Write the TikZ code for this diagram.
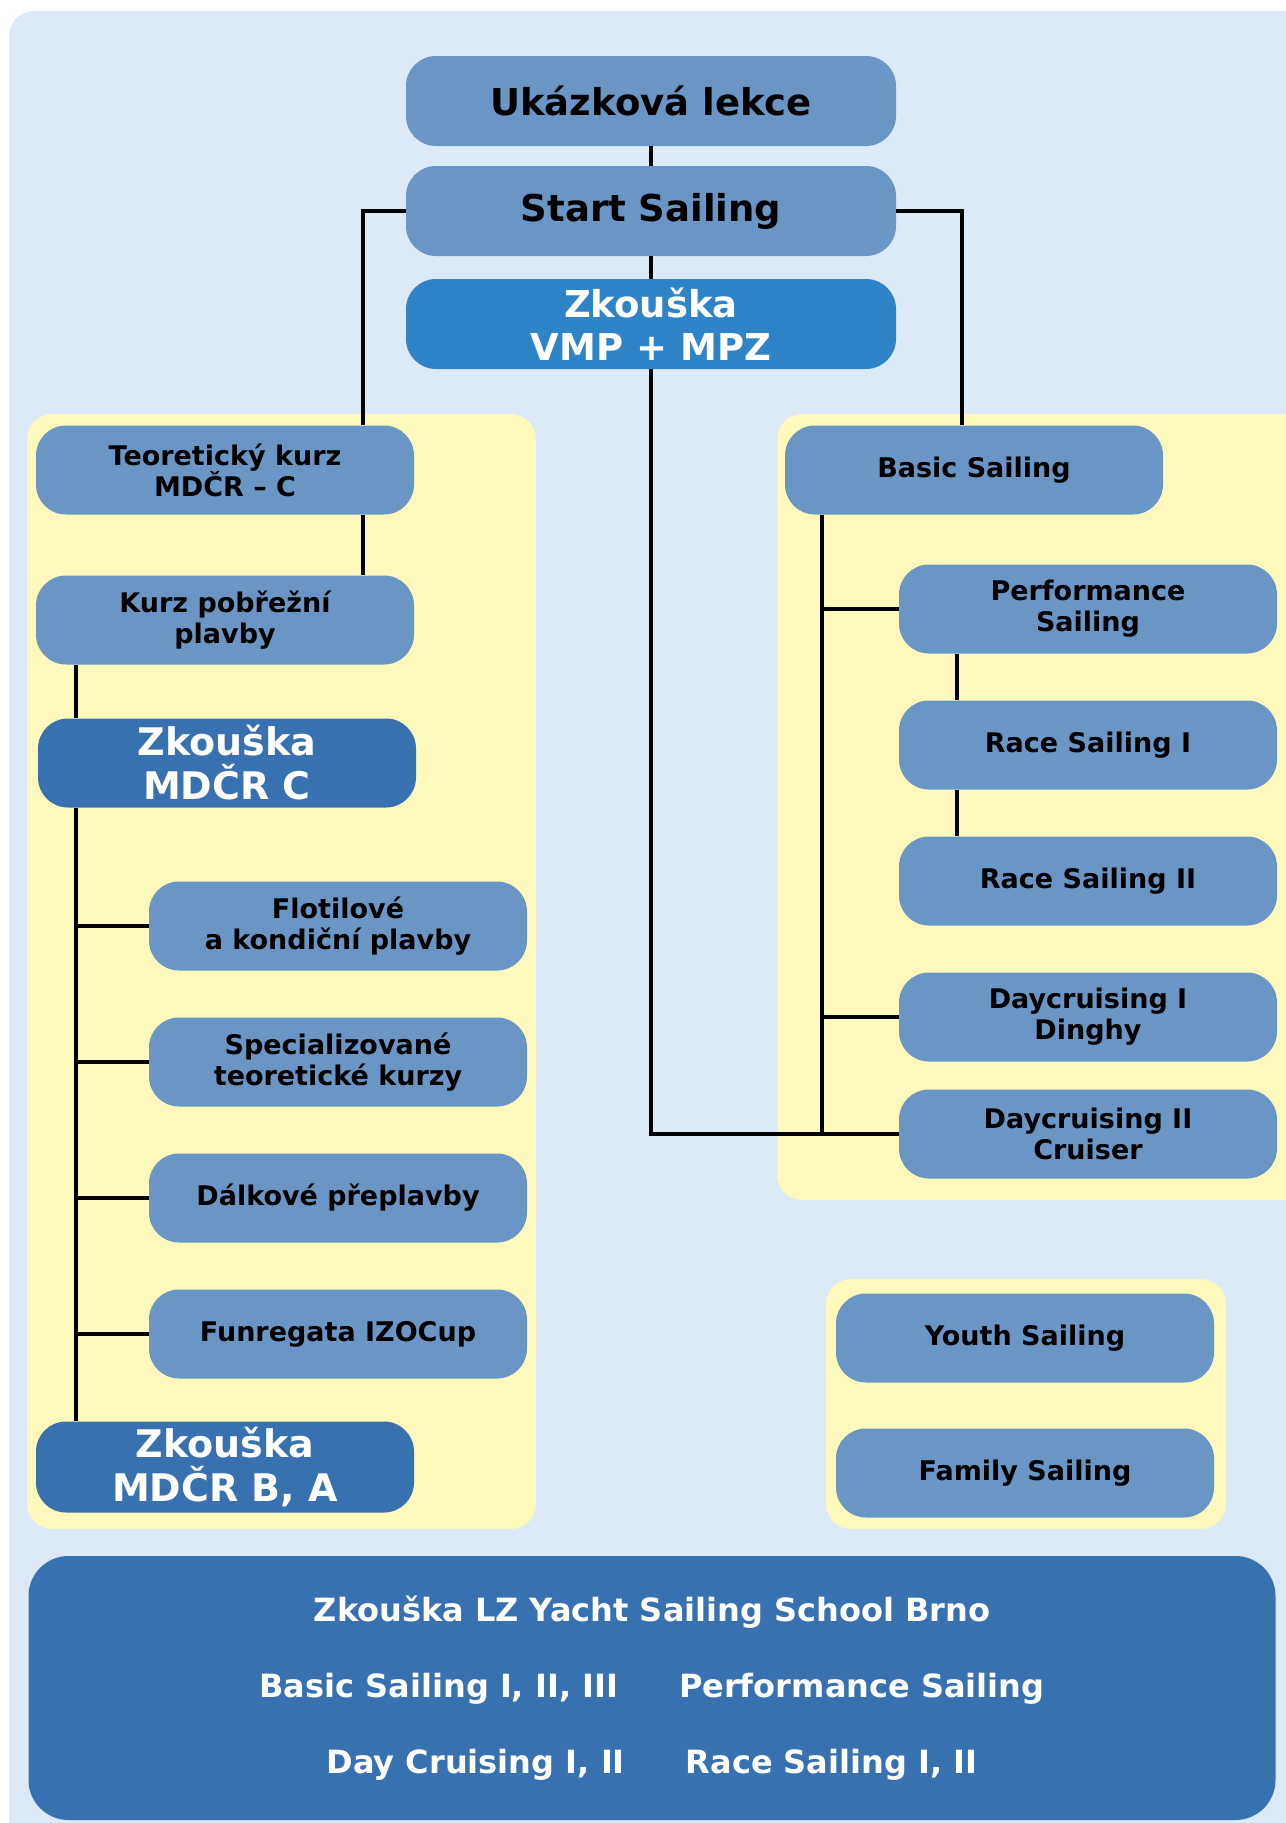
\documentclass[tikz,border=0pt]{standalone}
\usepackage{fontspec}
\setmainfont{DejaVu Sans}
\usepackage{tikz}

\definecolor{pagebg}{HTML}{DCE9F6}
\definecolor{panelyellow}{HTML}{FDF8BC}
\definecolor{courseblue}{HTML}{6A96C6}
\definecolor{examblue}{HTML}{3871B0}
\definecolor{vmpblue}{HTML}{2E84C6}

\begin{document}
\begin{tikzpicture}[x=1pt, y=-1pt,
                box/.style={rounded corners=30pt, fill=courseblue, minimum height=89pt,
                        inner sep=0pt, align=center, font=\bfseries\fontsize{27}{31}\selectfont},
                topbox/.style={box, minimum width=490pt, minimum height=90pt, font=\bfseries\fontsize{37}{40}\selectfont},
                sidebox/.style={box, minimum width=378pt},
                exambox/.style={box, fill=examblue, text=white, font=\bfseries\fontsize{38}{44}\selectfont},
                link/.style={line width=4.5pt}]
                \useasboundingbox (0, 0) rectangle (1285, 1823);
                \fill[pagebg, rounded corners=25pt] (9, 11) rectangle (1320, 1850);
                \fill[panelyellow, rounded corners=25pt] (27, 414) rectangle (536, 1529);
                \fill[panelyellow, rounded corners=25pt] (777, 414) rectangle (1320, 1200);
                \fill[panelyellow, rounded corners=25pt] (826, 1279) rectangle (1226, 1529);

                \node (ukazka) at (651, 101) [topbox] {Ukázková lekce};
                \node (start) at (651, 211) [topbox] {Start Sailing};
                \node (vmp) at (651, 324) [topbox, fill=vmpblue, text=white, font=\bfseries\fontsize{37}{43}\selectfont] {Zkouška\\VMP + MPZ};

                \node (teor) at (225, 470) [sidebox] {Teoretický kurz\\MDČR – C};
                \node (kurz) at (225, 620) [sidebox] {Kurz pobřežní\\plavby};
                \node (mdcrc) at (227, 763) [sidebox, exambox] {Zkouška\\MDČR C};
                \node (flot) at (338, 926) [sidebox] {Flotilové\\a kondiční plavby};
                \node (spec) at (338, 1062) [sidebox] {Specializované\\teoretické kurzy};
                \node (dalk) at (338, 1198) [sidebox] {Dálkové přeplavby};
                \node (funr) at (338, 1334) [sidebox] {Funregata IZOCup};
                \node (mdcrba) at (225, 1467) [sidebox, exambox, minimum height=91pt] {Zkouška\\MDČR B, A};

                \node (basic) at (974, 470) [sidebox] {Basic Sailing};
                \node (perf) at (1088, 609) [sidebox] {Performance\\Sailing};
                \node (race1) at (1088, 745) [sidebox] {Race Sailing I};
                \node (race2) at (1088, 881) [sidebox] {Race Sailing II};
                \node (dc1) at (1088, 1017) [sidebox] {Daycruising I\\Dinghy};
                \node (dc2) at (1088, 1134) [sidebox] {Daycruising II\\Cruiser};

                \node (youth) at (1025, 1338) [sidebox] {Youth Sailing};
                \node (family) at (1025, 1473) [sidebox] {Family Sailing};

                \node (lzbox) at (652, 1688) [box, fill=examblue, text=white, rounded corners=40pt,
                        minimum width=1247pt, minimum height=264pt, font=\bfseries\fontsize{32}{76}\selectfont]
                        {Zkouška LZ Yacht Sailing School Brno\\
                        Basic Sailing I, II, III\hspace{61pt}Performance Sailing\\
                        Day Cruising I, II\hspace{61pt}Race Sailing I, II};

                \coordinate (ltrunk) at ([xshift=40pt]kurz.south west);
                \coordinate (rtrunk) at ([xshift=37pt]basic.south west);

                \draw[link] (ukazka) -- (start);
                \draw[link] (start) -- (vmp);
                \draw[link] (start.west) -| ([xshift=-51pt]teor.north east);
                \draw[link] ([xshift=-51pt]teor.south east) -- ([xshift=-51pt]kurz.north east);
                \draw[link] (start.east) -| ([xshift=-12pt]basic.north);
                \draw[link] (vmp.south) |- (dc2.west);

                \draw[link] (ltrunk) -- (ltrunk |- mdcrc.north);
                \draw[link] (ltrunk |- mdcrc.south) -- (ltrunk |- mdcrba.north);
                \draw[link] (flot.west) -- (flot.west -| ltrunk);
                \draw[link] (spec.west) -- (spec.west -| ltrunk);
                \draw[link] (dalk.west) -- (dalk.west -| ltrunk);
                \draw[link] (funr.west) -- (funr.west -| ltrunk);

                \draw[link] (rtrunk) |- (dc2.west);
                \draw[link] (perf.west) -- (perf.west -| rtrunk);
                \draw[link] (dc1.west) -- (dc1.west -| rtrunk);
                \draw[link] ([xshift=58pt]perf.south west) -- ([xshift=58pt]race1.north west);
                \draw[link] ([xshift=58pt]race1.south west) -- ([xshift=58pt]race2.north west);
            \end{tikzpicture}
\end{document}
